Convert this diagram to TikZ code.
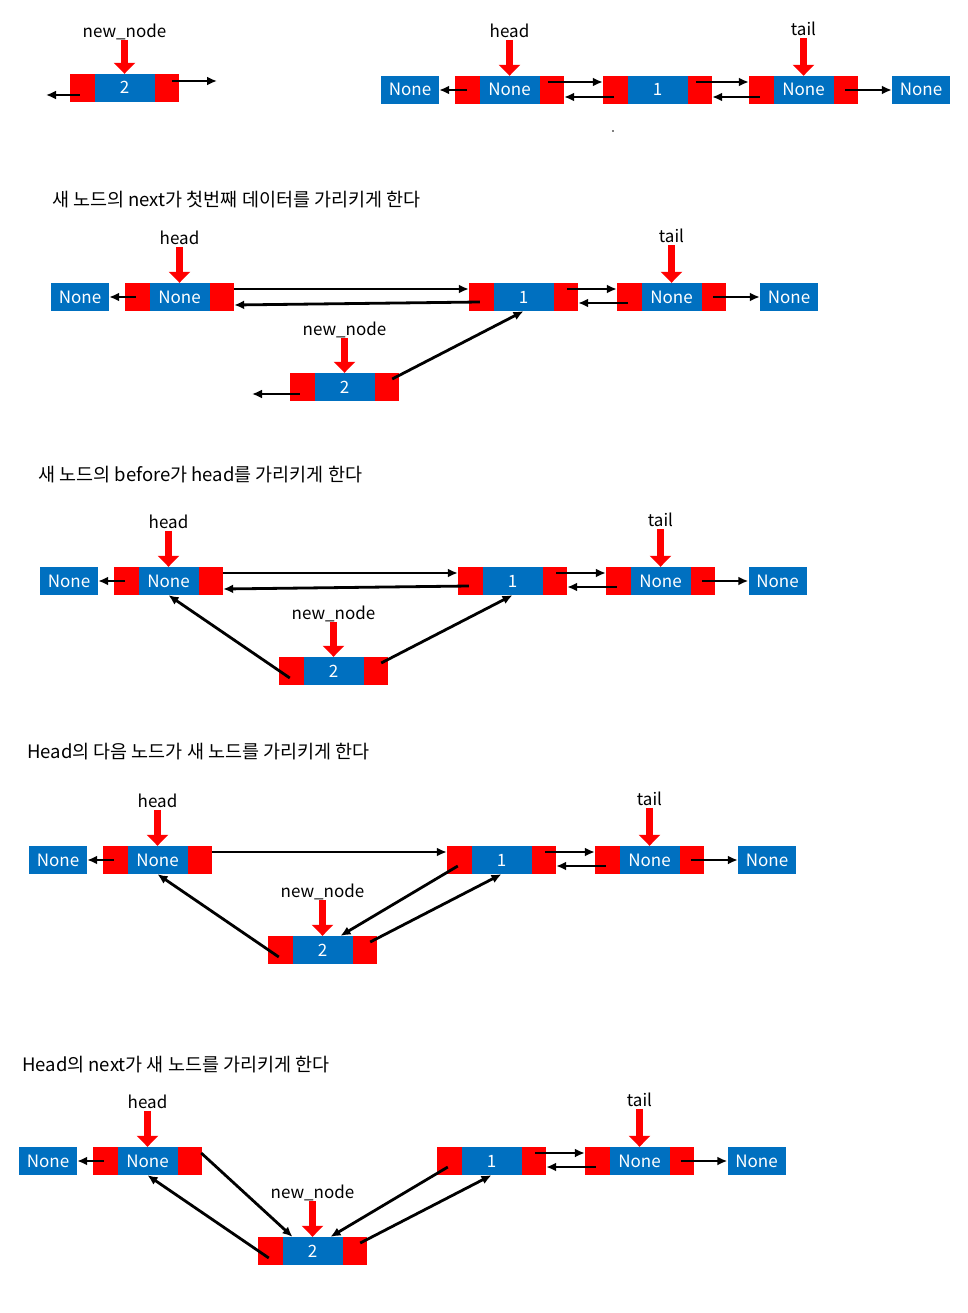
\documentclass[tikz,border=0pt]{standalone}
\usepackage{fontspec}
\setmainfont{Noto Sans CJK KR}
\usetikzlibrary{positioning,arrows.meta}
\definecolor{cellblue}{HTML}{0070C0}

\begin{document}
\begin{tikzpicture}[x=1pt,y=-1pt,
  txt/.style={font=\fontsize{17}{20}\selectfont},
  dnode/.style={txt,text=white,fill=cellblue,minimum width=109pt,minimum height=28pt,
    inner sep=0pt,text height=12pt,text depth=0pt,
    path picture={\fill[red] (path picture bounding box.north west) rectangle ([xshift=24.5pt]path picture bounding box.south west);
      \fill[red] ([xshift=-24.5pt]path picture bounding box.north east) rectangle (path picture bounding box.south east);}},
  nonebox/.style={txt,text=white,fill=cellblue,minimum width=58pt,minimum height=28pt,
    inner sep=0pt,text height=12pt,text depth=0pt},
  lbl/.style={txt,inner sep=2pt,text height=12pt,text depth=0pt},
  title/.style={font=\fontsize{18.5}{22}\selectfont,anchor=west,inner sep=0pt},
  ptr/.style={red,line width=7.5pt,-{Triangle[width=21pt,length=11pt]}},
  link/.style={line width=2.8pt,-{Latex[length=10pt,width=9pt]}}]
  \useasboundingbox (0,0) rectangle (967,1313);

  % state before insert
  \node[dnode] (N1) at (124.5,88) {2};
  \node[lbl,above=34pt of N1] (nl1) {new\_node};
  \node[nonebox] (L1) at (410,90) {None};
  \node[dnode] (H1) at (509.5,90) {None};
  \node[dnode] (O1) at (657.5,90) {1};
  \node[dnode] (T1) at (803.5,90) {None};
  \node[nonebox] (R1) at (921,90) {None};
  \node[lbl,above=36pt of H1] (hl1) {head};
  \node[lbl,above=38pt of T1] (tl1) {tail};
  \coordinate (N1n) at (217,81);
  \coordinate (N1b) at (46,95);
  \draw[ptr] (nl1.south) -- (N1.north);
  \draw[ptr] (hl1.south) -- (H1.north);
  \draw[ptr] (tl1.south) -- (T1.north);
  \draw[link] ([xshift=-7pt,yshift=7pt]N1.east) -- (N1n);
  \draw[link] ([xshift=10pt,yshift=-7pt]N1.west) -- (N1b);
  \draw[link] ([xshift=12pt]H1.west) -- (L1.east);
  \draw[link] ([xshift=-16pt,yshift=8pt]H1.east) -- ([yshift=8pt]O1.west);
  \draw[link] ([xshift=11pt,yshift=-7pt]O1.west) -- ([yshift=-7pt]H1.east);
  \draw[link] ([xshift=-16pt,yshift=8pt]O1.east) -- ([yshift=8pt]T1.west);
  \draw[link] ([xshift=11pt,yshift=-7pt]T1.west) -- ([yshift=-7pt]O1.east);
  \draw[link] ([xshift=-13pt]T1.east) -- (R1.west);
  \fill (613,131) circle (0.8);

  % step 1
  \node[title] (t2) at (52,200) {새 노드의 next가 첫번째 데이터를 가리키게 한다};
  \node[nonebox] (L2) at (80,297) {None};
  \node[dnode] (H2) at (179.5,297) {None};
  \node[dnode] (O2) at (523.5,297) {1};
  \node[dnode] (T2) at (671.5,297) {None};
  \node[nonebox] (R2) at (789,297) {None};
  \node[dnode] (N2) at (344.5,387) {2};
  \node[lbl,above=36pt of H2] (hl2) {head};
  \node[lbl,above=38pt of T2] (tl2) {tail};
  \node[lbl,above=35pt of N2] (nl2) {new\_node};
  \coordinate (N2b) at (252,394);
  \draw[ptr] (hl2.south) -- (H2.north);
  \draw[ptr] (tl2.south) -- (T2.north);
  \draw[ptr] (nl2.south) -- (N2.north);
  \draw[link] ([xshift=11pt]H2.west) -- (L2.east);
  \draw[link] ([yshift=8pt]H2.east) -- ([yshift=8pt]O2.west);
  \draw[link] ([xshift=11pt,yshift=-5pt]O2.west) -- ([yshift=-8pt]H2.east);
  \draw[link] ([xshift=-11pt,yshift=8pt]O2.east) -- ([yshift=8pt]T2.west);
  \draw[link] ([xshift=11pt,yshift=-6pt]T2.west) -- ([yshift=-6pt]O2.east);
  \draw[link] ([xshift=-13pt]T2.east) -- (R2.west);
  \draw[link] ([xshift=10pt,yshift=-7pt]N2.west) -- (N2b);
  \draw[link] ([xshift=-7pt,yshift=8pt]N2.east) -- (O2.south);

  % step 2
  \node[title] (t3) at (38,475) {새 노드의 before가 head를 가리키게 한다};
  \node[nonebox] (L3) at (69,581) {None};
  \node[dnode] (H3) at (168.5,581) {None};
  \node[dnode] (O3) at (512.5,581) {1};
  \node[dnode] (T3) at (660.5,581) {None};
  \node[nonebox] (R3) at (777.5,581) {None};
  \node[dnode] (N3) at (333.5,671) {2};
  \node[lbl,above=36pt of H3] (hl3) {head};
  \node[lbl,above=38pt of T3] (tl3) {tail};
  \node[lbl,above=35pt of N3] (nl3) {new\_node};
  \draw[ptr] (hl3.south) -- (H3.north);
  \draw[ptr] (tl3.south) -- (T3.north);
  \draw[ptr] (nl3.south) -- (N3.north);
  \draw[link] ([xshift=11pt]H3.west) -- (L3.east);
  \draw[link] ([yshift=8pt]H3.east) -- ([yshift=8pt]O3.west);
  \draw[link] ([xshift=11pt,yshift=-5pt]O3.west) -- ([yshift=-8pt]H3.east);
  \draw[link] ([xshift=-11pt,yshift=8pt]O3.east) -- ([yshift=8pt]T3.west);
  \draw[link] ([xshift=11pt,yshift=-6pt]T3.west) -- ([yshift=-6pt]O3.east);
  \draw[link] ([xshift=-13pt]T3.east) -- (R3.west);
  \draw[link] ([xshift=11pt,yshift=-7pt]N3.west) -- (H3.south);
  \draw[link] ([xshift=-7pt,yshift=8pt]N3.east) -- (O3.south);

  % step 3
  \node[title] (t4) at (27,752) {Head의 다음 노드가 새 노드를 가리키게 한다};
  \node[nonebox] (L4) at (58,860) {None};
  \node[dnode] (H4) at (157.5,860) {None};
  \node[dnode] (O4) at (501.5,860) {1};
  \node[dnode] (T4) at (649.5,860) {None};
  \node[nonebox] (R4) at (767,860) {None};
  \node[dnode] (N4) at (322.5,950) {2};
  \node[lbl,above=36pt of H4] (hl4) {head};
  \node[lbl,above=38pt of T4] (tl4) {tail};
  \node[lbl,above=36pt of N4] (nl4) {new\_node};
  \draw[ptr] (hl4.south) -- (H4.north);
  \draw[ptr] (tl4.south) -- (T4.north);
  \draw[ptr] (nl4.south) -- (N4.north);
  \draw[link] ([xshift=11pt]H4.west) -- (L4.east);
  \draw[link] ([yshift=8pt]H4.east) -- ([yshift=8pt]O4.west);
  \draw[link] ([xshift=11pt,yshift=-6pt]O4.west) -- ([xshift=18pt]N4.north);
  \draw[link] ([xshift=-11pt,yshift=8pt]O4.east) -- ([yshift=8pt]T4.west);
  \draw[link] ([xshift=11pt,yshift=-6pt]T4.west) -- ([yshift=-6pt]O4.east);
  \draw[link] ([xshift=-13pt]T4.east) -- (R4.west);
  \draw[link] ([xshift=11pt,yshift=-7pt]N4.west) -- (H4.south);
  \draw[link] ([xshift=-7pt,yshift=8pt]N4.east) -- (O4.south);

  % step 4
  \node[title] (t5) at (22,1065) {Head의 next가 새 노드를 가리키게 한다};
  \node[nonebox] (L5) at (48,1161) {None};
  \node[dnode] (H5) at (147.5,1161) {None};
  \node[dnode] (O5) at (491.5,1161) {1};
  \node[dnode] (T5) at (639.5,1161) {None};
  \node[nonebox] (R5) at (756.5,1161) {None};
  \node[dnode] (N5) at (312.5,1251) {2};
  \node[lbl,above=36pt of H5] (hl5) {head};
  \node[lbl,above=38pt of T5] (tl5) {tail};
  \node[lbl,above=36pt of N5] (nl5) {new\_node};
  \draw[ptr] (hl5.south) -- (H5.north);
  \draw[ptr] (tl5.south) -- (T5.north);
  \draw[ptr] (nl5.south) -- (N5.north);
  \draw[link] ([xshift=11pt]H5.west) -- (L5.east);
  \draw[link] ([xshift=-1pt,yshift=8pt]H5.east) -- ([xshift=-20pt]N5.north);
  \draw[link] ([xshift=11pt,yshift=-6pt]O5.west) -- ([xshift=18pt]N5.north);
  \draw[link] ([xshift=-11pt,yshift=8pt]O5.east) -- ([yshift=8pt]T5.west);
  \draw[link] ([xshift=11pt,yshift=-6pt]T5.west) -- ([yshift=-6pt]O5.east);
  \draw[link] ([xshift=-13pt]T5.east) -- (R5.west);
  \draw[link] ([xshift=11pt,yshift=-7pt]N5.west) -- (H5.south);
  \draw[link] ([xshift=-7pt,yshift=8pt]N5.east) -- (O5.south);
\end{tikzpicture}
\end{document}
